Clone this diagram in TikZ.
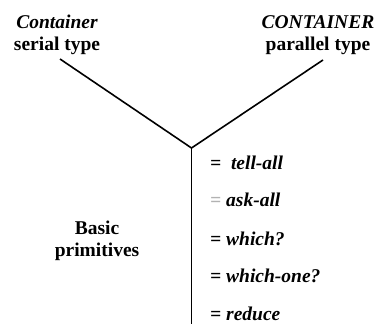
\documentclass[tikz,border=0pt]{standalone}
\usepackage{fontspec}
\setmainfont{Liberation Serif}
\usetikzlibrary{positioning}

\begin{document}
\begin{tikzpicture}[x=1pt, y=-1pt,
    head/.style={font=\fontsize{19.5}{22}\selectfont\bfseries\itshape, anchor=base, inner sep=0pt},
    kind/.style={font=\fontsize{19.5}{22}\selectfont\bfseries, anchor=base, inner sep=0pt},
    prim/.style={font=\fontsize{19.5}{22}\selectfont\bfseries\itshape, anchor=base west, inner sep=0pt},
    branch/.style={line width=1.6pt},
]
    \useasboundingbox (0,0) rectangle (376,324);

    % container types
    \node[head] (serhead) at (57,28)  {Container};
    \node[kind] (sertype) at (57,50)  {serial type};
    \node[head] (parhead) at (318,28) {CONTAINER};
    \node[kind] (partype) at (318,50) {parallel type};

    % basic primitives
    \node[kind] (basic) at (97,234) {Basic};
    \node[kind] (prims) at (97,257) {primitives};
    \node[prim] (tell)  at (210,170) {=\ \ tell-all};
    \node[prim] (ask)   at (210,207) {\textcolor{gray!60}{=} ask-all};
    \node[prim] (which) at (210,245) {= which?};
    \node[prim] (one)   at (210,283) {= which-one?};
    \node[prim] (red)   at (210,320) {= reduce};

    \coordinate (fork)   at (191.5,148);
    \coordinate (serend) at (60,59);
    \coordinate (parend) at (323,60);
    \coordinate (stem)   at (191.5,324);

    \draw[branch] (serend) -- (fork);
    \draw[branch] (parend) -- (fork);
    \draw[branch] (fork) -- (stem);
\end{tikzpicture}
\end{document}
